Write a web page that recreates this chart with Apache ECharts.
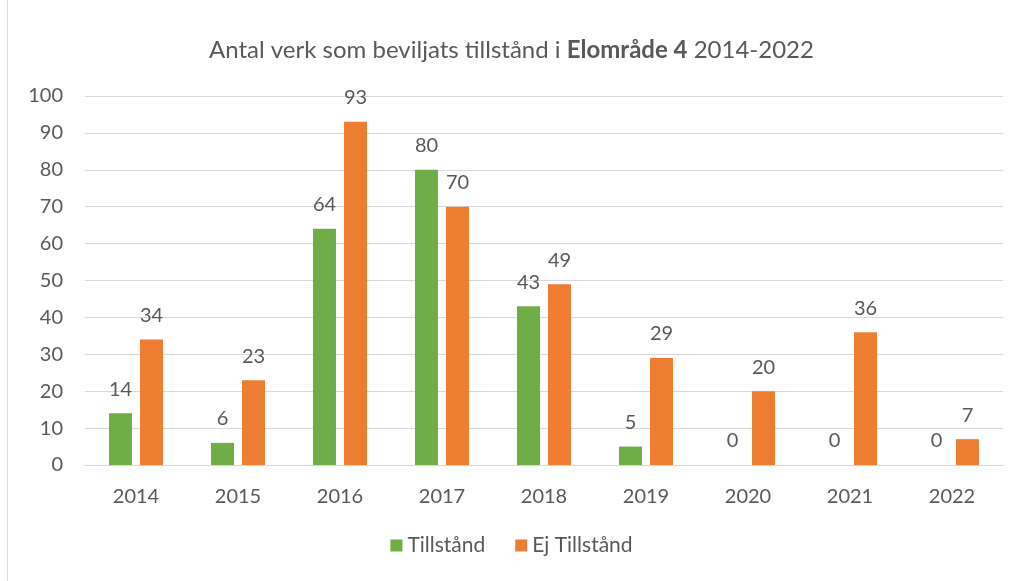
<!DOCTYPE html>
<html>
<head>
<meta charset="utf-8">
<script src="https://cdn.jsdelivr.net/npm/echarts@6/dist/echarts.min.js"></script>
<style>
  html, body { margin: 0; padding: 0; background: #fff; }
  #frame { position: absolute; left: 7px; top: 0; width: 1016px; height: 581px; border-left: 1px solid #d9d9d9; }
  #chart { position: absolute; left: 0; top: 0; width: 1023px; height: 581px; }
</style>
</head>
<body>
<div id="frame"></div>
<div id="chart"></div>
<script>
// data
const years = ['2014', '2015', '2016', '2017', '2018', '2019', '2020', '2021', '2022'];
const tillstand = [14, 6, 64, 80, 43, 5, 0, 0, 0];
const ejTillstand = [34, 23, 93, 70, 49, 29, 20, 36, 7];

const textColor = '#595959';
const font = 'Lato, "Open Sans", sans-serif';

const myChart = echarts.init(document.getElementById('chart'));
myChart.setOption({
  animation: false,
  title: {
    text: 'Antal verk som beviljats tillstånd i {b|Elområde 4} 2014-2022',
    left: 'center',
    top: 33,
    textStyle: {
      color: textColor,
      fontSize: 24,
      fontWeight: 'normal',
      fontFamily: font,
      rich: {
        b: { fontWeight: 'bold', fontSize: 24, color: textColor, fontFamily: font }
      }
    }
  },
  grid: {
    left: 85,
    right: 20,
    top: 96,
    bottom: 116
  },
  legend: {
    bottom: 20,
    left: 'center',
    icon: 'rect',
    itemWidth: 12,
    itemHeight: 12,
    itemGap: 30,
    textStyle: { color: textColor, fontSize: 21, fontFamily: font },
    data: ['Tillstånd', 'Ej Tillstånd']
  },
  xAxis: {
    type: 'category',
    data: years,
    axisLine: { lineStyle: { color: '#d9d9d9' } },
    axisTick: { show: false },
    axisLabel: { color: textColor, fontSize: 20, fontFamily: font, margin: 22 }
  },
  yAxis: {
    type: 'value',
    min: 0,
    max: 100,
    interval: 10,
    axisLine: { show: false },
    axisTick: { show: false },
    splitLine: { lineStyle: { color: '#d9d9d9', width: 1 } },
    axisLabel: { color: textColor, fontSize: 20, fontFamily: font, margin: 22 }
  },
  series: [
    {
      name: 'Tillstånd',
      type: 'bar',
      barWidth: 23,
      barGap: '35%',
      itemStyle: { color: '#70ad47' },
      label: { show: true, position: 'top', distance: 14, color: textColor, fontSize: 20, fontFamily: font },
      data: tillstand
    },
    {
      name: 'Ej Tillstånd',
      type: 'bar',
      barWidth: 23,
      barGap: '35%',
      itemStyle: { color: '#ed7d31' },
      label: { show: true, position: 'top', distance: 14, color: textColor, fontSize: 20, fontFamily: font },
      data: ejTillstand
    }
  ]
});
</script>
</body>
</html>
